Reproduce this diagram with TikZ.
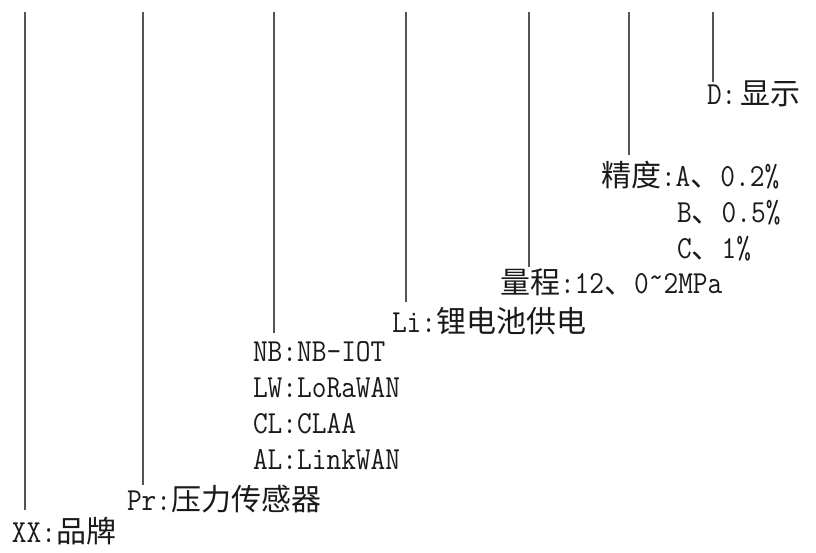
\documentclass[tikz,border=0pt]{standalone}
\usepackage{fontspec}
\setmainfont[Scale=1.07, FakeStretch=0.89]{Latin Modern Mono}
\newfontfamily\cjk{Noto Sans CJK SC}
\definecolor{linegray}{HTML}{555555}
\definecolor{textblack}{HTML}{1A1A1A}
\tikzset{
  lbl/.style={anchor=base west, inner sep=0pt, outer sep=0pt, text=textblack,
    font=\fontsize{30}{36}\selectfont},
  leader/.style={draw=linegray, line width=1.6pt}
}
\begin{document}
\begin{tikzpicture}[x=1pt, y=-1pt]
\useasboundingbox[fill=white] (0,0) rectangle (816,552);
% labels
\node[lbl] (xx) at (12,542) {XX:{\cjk 品牌}};
\node[lbl] (pr) at (127,510) {Pr:{\cjk 压力传感器}};
\node[lbl] (nb) at (253,361) {NB:NB-IOT};
\node[lbl] (lw) at (253,397) {LW:LoRaWAN};
\node[lbl] (cl) at (253,433) {CL:CLAA};
\node[lbl] (al) at (253,469) {AL:LinkWAN};
\node[lbl] (li) at (392,332) {Li:{\cjk 锂电池供电}};
\node[lbl] (lc) at (500,293) {{\cjk 量程}:12{\cjk 、}0\raisebox{6pt}{\textasciitilde}2MPa};
\node[lbl] (jd) at (601,186) {{\cjk 精度}:A{\cjk 、}0.2\%};
\node[lbl] (jb) at (677,222) {B{\cjk 、}0.5\%};
\node[lbl] (jc) at (677,258) {C{\cjk 、}1\%};
\node[lbl] (dd) at (707,104) {D:\hspace{4pt}{\cjk 显示}};
% leader line ends
\coordinate (t1) at (25,12);  \coordinate (b1) at (25,510);
\coordinate (t2) at (143,12); \coordinate (b2) at (143,485);
\coordinate (t3) at (274,12); \coordinate (b3) at (274,333);
\coordinate (t4) at (406,12); \coordinate (b4) at (406,302);
\coordinate (t5) at (529,12); \coordinate (b5) at (529,267);
\coordinate (t6) at (629,12); \coordinate (b6) at (629,155);
\coordinate (t7) at (713,12); \coordinate (b7) at (713,82);
\draw[leader] (t1) -- (b1);
\draw[leader] (t2) -- (b2);
\draw[leader] (t3) -- (b3);
\draw[leader] (t4) -- (b4);
\draw[leader] (t5) -- (b5);
\draw[leader] (t6) -- (b6);
\draw[leader] (t7) -- (b7);
\end{tikzpicture}
\end{document}
